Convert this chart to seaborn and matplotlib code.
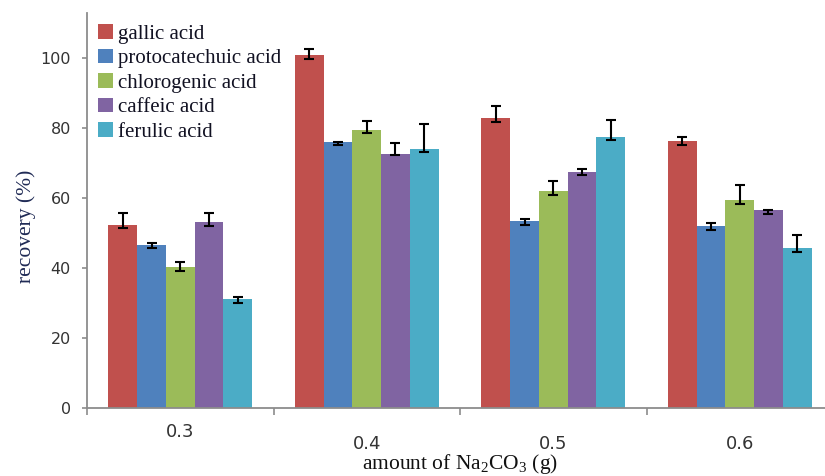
import matplotlib
matplotlib.use("Agg")
import matplotlib.pyplot as plt
import seaborn as sns
import pandas as pd

# ---- data ----
amounts = ["0.3", "0.4", "0.5", "0.6"]
acids = ["gallic acid", "protocatechuic acid", "chlorogenic acid", "caffeic acid", "ferulic acid"]
gallic = [52.4, 101.0, 82.9, 76.3]
protocatechuic = [46.5, 76.0, 53.5, 52.0]
chlorogenic = [40.2, 79.6, 62.0, 59.5]
caffeic = [53.2, 72.7, 67.5, 56.5]
ferulic = [31.0, 74.2, 77.5, 45.8]
# error bars as drawn (lower, upper)
gallic_err_lo = [1.0, 1.1, 1.1, 1.0]
gallic_err_hi = [3.2, 1.6, 3.4, 1.2]
protocatechuic_err_lo = [0.9, 0.9, 1.1, 1.1]
protocatechuic_err_hi = [0.7, 0.1, 0.5, 0.8]
chlorogenic_err_lo = [1.1, 1.0, 1.1, 1.1]
chlorogenic_err_hi = [1.6, 2.4, 2.9, 4.2]
caffeic_err_lo = [1.1, 0.4, 1.0, 1.0]
caffeic_err_hi = [2.4, 3.0, 0.7, 0.2]
ferulic_err_lo = [1.0, 1.0, 1.0, 1.2]
ferulic_err_hi = [0.6, 7.0, 5.0, 3.6]
yticks = [0, 20, 40, 60, 80, 100]
colors = ["#C0504D", "#4F81BD", "#9BBB59", "#8064A2", "#4BACC6"]

series = [gallic, protocatechuic, chlorogenic, caffeic, ferulic]
err_lo = [gallic_err_lo, protocatechuic_err_lo, chlorogenic_err_lo, caffeic_err_lo, ferulic_err_lo]
err_hi = [gallic_err_hi, protocatechuic_err_hi, chlorogenic_err_hi, caffeic_err_hi, ferulic_err_hi]

rows = []
for acid, vals in zip(acids, series):
    for a, v in zip(amounts, vals):
        rows.append({"amount": a, "acid": acid, "recovery": v})
df = pd.DataFrame(rows)

sns.set_theme(style="white")
plt.rcParams["font.family"] = ["DejaVu Sans"]
plt.rcParams["mathtext.fontset"] = "custom"
plt.rcParams["mathtext.rm"] = "Liberation Serif"
plt.rcParams["mathtext.it"] = "Liberation Serif:italic"

W, H = 825, 476
fig = plt.figure(figsize=(W / 100, H / 100), dpi=100)
left_px, right_px, bottom_px, top_px = 87, 833, 407.7, 13
ax = fig.add_axes([left_px / W, 1 - bottom_px / H, (right_px - left_px) / W, (bottom_px - top_px) / H])

sns.barplot(data=df, x="amount", y="recovery", hue="acid", order=amounts, hue_order=acids,
            palette=colors, width=0.77, errorbar=None, saturation=1, linewidth=0, ax=ax)

bar_conts = list(ax.containers)
for i, cont in enumerate(bar_conts):
    xs = [p.get_x() + p.get_width() / 2 for p in cont]
    ys = [p.get_height() for p in cont]
    ax.errorbar(xs, ys, yerr=[err_lo[i], err_hi[i]], fmt="none", ecolor="black",
                elinewidth=1.5, capsize=3.7, capthick=1.5, zorder=5)

ax.set_xlim(-0.5, 3.5)
ax.set_ylim(0, 113)
ax.set_yticks(yticks)

for s in ["top", "right"]:
    ax.spines[s].set_visible(False)
for s in ["left", "bottom"]:
    ax.spines[s].set_color("#8c8c8c")
    ax.spines[s].set_linewidth(1.3)

# major x ticks at category boundaries, labels at centres (minor)
ax.set_xticks([-0.5, 0.5, 1.5, 2.5, 3.5])
ax.set_xticklabels([])
ax.set_xticks(range(len(amounts)), labels=amounts, minor=True)
ax.tick_params(axis="x", which="major", direction="out", length=5, width=1.2, color="#8c8c8c", bottom=True)
ax.tick_params(axis="x", which="minor", length=0, labelsize=13, labelcolor="#333333", bottom=True)
ax.tick_params(axis="y", direction="out", length=3.6, width=1.2, color="#8c8c8c", left=True,
               labelsize=11.5, labelcolor="#333333", pad=8)
for i, t in enumerate(ax.xaxis.get_minor_ticks()):
    t.set_pad(11 if i == 0 else 20)

ax.set_xlabel("amount of Na$_2$CO$_3$ (g)", family="Liberation Serif", fontsize=15.5, color="#111111")
ax.xaxis.set_label_coords(0.5, -0.112)
ax.set_ylabel("recovery (%)", family="Liberation Serif", fontsize=15.5, color="#1f2a55")
ax.yaxis.set_label_coords(-0.068, 0.46)

handles, labels = ax.get_legend_handles_labels()
ax.legend(handles, labels, loc="upper left", bbox_to_anchor=(98 / W, 1 - 24 / H),
          bbox_transform=fig.transFigure, frameon=False, borderpad=0, borderaxespad=0,
          handlelength=0.7, handleheight=0.7, handletextpad=0.25, labelspacing=0.24,
          prop={"family": "Liberation Serif", "size": 15})
for txt in ax.get_legend().get_texts():
    txt.set_color("#111122")

fig.savefig("out.png", dpi=100)
